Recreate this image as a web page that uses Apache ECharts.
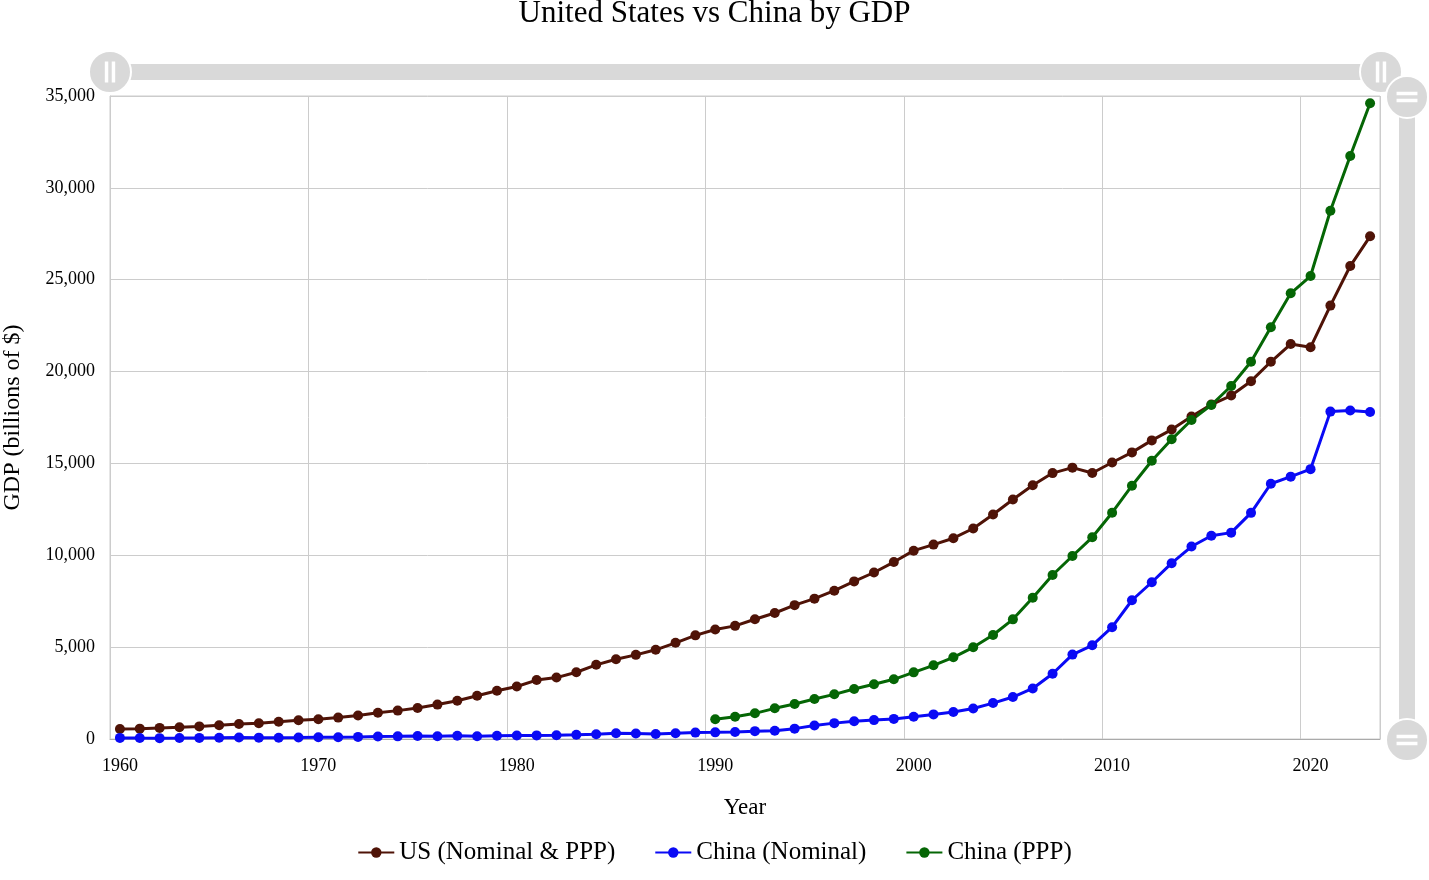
<!DOCTYPE html>
<html>
<head>
<meta charset="utf-8">
<script src="https://cdn.jsdelivr.net/npm/echarts@6/dist/echarts.min.js"></script>
<style>
html,body{margin:0;padding:0;background:#fff;}
#chart{width:1429px;height:880px;}
</style>
</head>
<body>
<div id="chart"></div>
<script>
const years = [];
for (let y = 1960; y <= 2023; y++) years.push(String(y));

const usGDP = [543, 563, 605, 639, 686, 744, 815, 862, 943, 1019,
  1073, 1165, 1279, 1425, 1545, 1685, 1873, 2082, 2352, 2627,
  2857, 3207, 3343, 3634, 4037, 4339, 4580, 4855, 5236, 5642,
  5963, 6158, 6520, 6859, 7287, 7640, 8073, 8578, 9063, 9631,
  10251, 10582, 10929, 11457, 12217, 13039, 13816, 14474, 14770, 14478,
  15049, 15600, 16254, 16843, 17551, 18206, 18695, 19477, 20533, 21500,
  21320, 23590, 25744, 27361];

const chinaNominal = [60, 50, 47, 51, 60, 70, 77, 73, 71, 80,
  93, 100, 114, 139, 144, 163, 154, 175, 150, 178,
  191, 196, 205, 231, 260, 310, 301, 273, 312, 348,
  361, 383, 427, 445, 564, 735, 864, 962, 1029, 1094,
  1211, 1339, 1471, 1660, 1955, 2286, 2752, 3550, 4594, 5101,
  6087, 7552, 8532, 9570, 10476, 11062, 11233, 12310, 13895, 14280,
  14688, 17820, 17882, 17795];

const chinaPPP = [null, null, null, null, null, null, null, null, null, null,
  null, null, null, null, null, null, null, null, null, null,
  null, null, null, null, null, null, null, null, null, null,
  1072, 1214, 1397, 1669, 1905, 2177, 2431, 2721, 2976, 3250,
  3628, 4010, 4447, 4990, 5660, 6513, 7691, 8926, 9961, 10979,
  12318, 13787, 15148, 16312, 17363, 18180, 19214, 20536, 22409, 24260,
  25200, 28756, 31733, 34601];

const seriesNames = ['US (Nominal & PPP)', 'China (Nominal)', 'China (PPP)'];
const seriesColors = ['#4f1307', '#0a0af5', '#056605'];
const yTicks = { min: 0, max: 35000, interval: 5000 };

const FONT = '"Liberation Serif", "Times New Roman", serif';
const handleIcon = 'path://M0,-20A20,20,0,1,1,0,20A20,20,0,1,1,0,-20Z M-4,-9L-4,9L-2.6,9L-2.6,-9Z M2.6,-9L2.6,9L4,9L4,-9Z';

const chart = echarts.init(document.getElementById('chart'), null, { renderer: 'canvas' });

const mkSeries = (name, data, color) => ({
  name: name,
  type: 'line',
  data: data,
  symbol: 'circle',
  symbolSize: 10,
  showSymbol: true,
  showAllSymbol: true,
  connectNulls: false,
  itemStyle: { color: color },
  lineStyle: { color: color, width: 3 },
  emphasis: { disabled: true },
  animation: false
});

const sliderCommon = {
  type: 'slider',
  start: 0,
  end: 100,
  showDetail: false,
  showDataShadow: false,
  brushSelect: false,
  moveHandleSize: 0,
  realtime: true,
  filterMode: 'none',
  backgroundColor: '#d9d9d9',
  fillerColor: '#d9d9d9',
  borderColor: 'transparent',
  handleIcon: handleIcon,
  handleSize: 42,
  handleStyle: { color: '#d9d9d9', borderColor: '#ffffff', borderWidth: 2 },
  dataBackground: { lineStyle: { opacity: 0 }, areaStyle: { opacity: 0 } },
  selectedDataBackground: { lineStyle: { opacity: 0 }, areaStyle: { opacity: 0 } },
  emphasis: { handleStyle: { color: '#d9d9d9', borderColor: '#ffffff' } }
};

chart.setOption({
  animation: false,
  backgroundColor: '#ffffff',
  title: {
    text: 'United States vs China by GDP',
    left: 'center',
    top: -2,
    padding: 0,
    textStyle: { fontFamily: FONT, fontSize: 31, fontWeight: 'normal', color: '#000' }
  },
  legend: {
    data: seriesNames,
    bottom: 10,
    left: 'center',
    itemWidth: 36,
    itemHeight: 13,
    itemGap: 39,
    textStyle: { fontFamily: FONT, fontSize: 25, color: '#000' }
  },
  grid: {
    left: 110, right: 49, top: 96, bottom: 141,
    show: true, borderColor: '#cccccc', borderWidth: 1,
    containLabel: false,
    outerBoundsMode: 'none'
  },
  xAxis: {
    type: 'category',
    data: years,
    boundaryGap: true,
    name: 'Year',
    nameLocation: 'middle',
    nameGap: 57,
    nameTextStyle: { fontFamily: FONT, fontSize: 23, color: '#000' },
    axisLine: { lineStyle: { color: '#aaaaaa' } },
    axisTick: { show: false },
    axisLabel: { interval: 9, margin: 18, fontFamily: FONT, fontSize: 18, color: '#000' },
    splitLine: { show: true, interval: 9, lineStyle: { color: '#cccccc' } }
  },
  yAxis: {
    type: 'value',
    min: yTicks.min,
    max: yTicks.max,
    interval: yTicks.interval,
    name: 'GDP (billions of $)',
    nameLocation: 'middle',
    nameGap: 85,
    nameTextStyle: { fontFamily: FONT, fontSize: 24, color: '#000' },
    axisLine: { show: true, lineStyle: { color: '#cccccc' } },
    axisTick: { show: false },
    axisLabel: {
      margin: 15, fontFamily: FONT, fontSize: 18, color: '#000',
      formatter: v => v.toLocaleString('en-US')
    },
    splitLine: { show: true, lineStyle: { color: '#cccccc' } }
  },
  dataZoom: [
    Object.assign({}, sliderCommon, { xAxisIndex: 0, left: 107, right: 49, top: 64, height: 16 }),
    Object.assign({}, sliderCommon, { yAxisIndex: 0, orient: 'vertical', left: 1398, width: 16, top: 96, bottom: 139 })
  ],
  series: [
    mkSeries(seriesNames[0], usGDP, seriesColors[0]),
    mkSeries(seriesNames[1], chinaNominal, seriesColors[1]),
    mkSeries(seriesNames[2], chinaPPP, seriesColors[2])
  ]
});
</script>
</body>
</html>
